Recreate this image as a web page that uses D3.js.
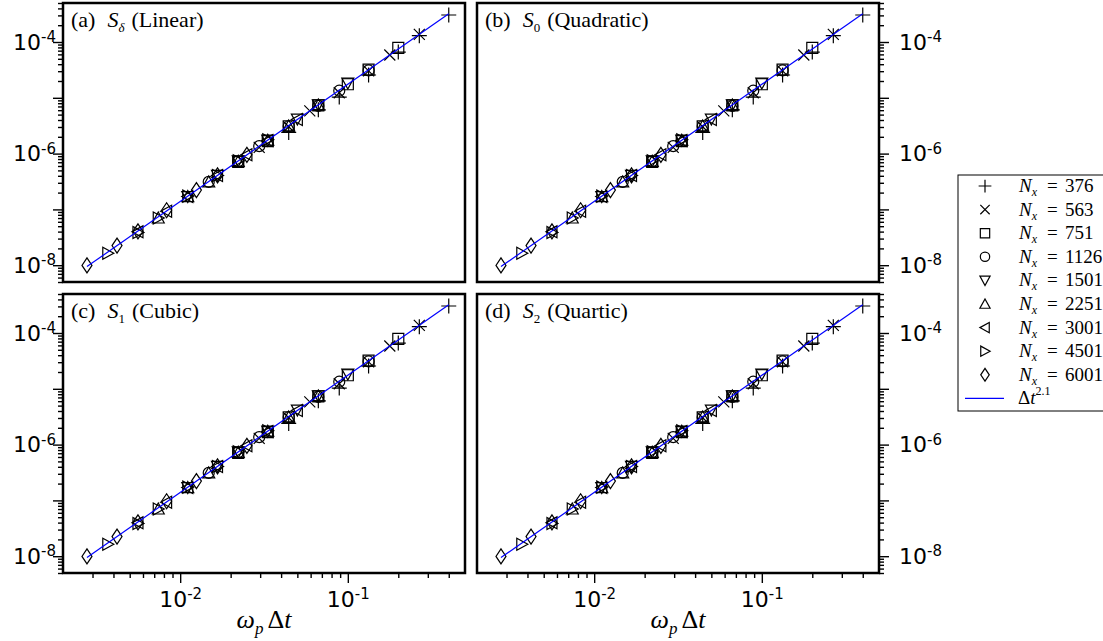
<!DOCTYPE html>
<html>
<head>
<meta charset="utf-8">
<script src="https://cdn.jsdelivr.net/npm/d3@7"></script>
<style>
body { margin: 0; background: #fff; }
svg { display: block; }
</style>
</head>
<body>
<svg width="1103" height="641"></svg>
<script>
// grid resolutions and their marker shapes
const resolutions = [376, 563, 751, 1126, 1501, 2251, 3001, 4501, 6001];
const markers = ['plus', 'cross', 'square', 'circle', 'tridown', 'triup', 'trileft', 'triright', 'diamond'];

// omega_p * dt and error, one pair of arrays per resolution
const dt376 = [0.4, 0.267, 0.2, 0.133, 0.0889, 0.0667, 0.0444];
const err376 = [3.05e-4, 1.30e-4, 6.6e-5, 2.56e-5, 1.03e-5, 6.1e-6, 2.4e-6];
const dt563 = [0.267, 0.178, 0.133, 0.0889, 0.0593, 0.0444, 0.0296];
const err563 = [1.37e-4, 5.85e-5, 3.04e-5, 1.23e-5, 5.83e-6, 3.03e-6, 1.29e-6];
const dt751 = [0.2, 0.133, 0.1, 0.0667, 0.0444, 0.0333, 0.0222];
const err751 = [7.86e-5, 3.20e-5, 1.75e-5, 7.31e-6, 3.09e-6, 1.67e-6, 7.12e-7];
const dt1126 = [0.133, 0.0889, 0.0667, 0.0444, 0.0296, 0.0222, 0.0148];
const err1126 = [3.10e-5, 1.34e-5, 7.16e-6, 3.09e-6, 1.36e-6, 7.27e-7, 3.11e-7];
const dt1501 = [0.1, 0.0667, 0.05, 0.0333, 0.0222, 0.0167, 0.0111];
const err1501 = [1.84e-5, 7.46e-6, 4.16e-6, 1.74e-6, 7.42e-7, 4.06e-7, 1.70e-7];
const dt2251 = [0.0667, 0.0444, 0.0333, 0.0222, 0.0148, 0.0111, 0.0074];
const err2251 = [7.46e-6, 3.13e-6, 1.74e-6, 7.27e-7, 3.11e-7, 1.70e-7, 7.02e-8];
const dt3001 = [0.05, 0.0333, 0.025, 0.0167, 0.0111, 0.0083, 0.0056];
const err3001 = [4.08e-6, 1.71e-6, 9.5e-7, 4.06e-7, 1.70e-7, 9.27e-8, 3.96e-8];
const dt4501 = [0.0333, 0.0222, 0.0167, 0.0111, 0.0074, 0.0056, 0.0037];
const err4501 = [1.77e-6, 7.42e-7, 4.06e-7, 1.73e-7, 7.02e-8, 3.84e-8, 1.64e-8];
const dt6001 = [0.025, 0.0167, 0.0125, 0.0083, 0.0056, 0.0042, 0.00278];
const err6001 = [9.5e-7, 4.06e-7, 2.22e-7, 9.65e-8, 4.04e-8, 2.25e-8, 9.9e-9];

const dtSeries = [dt376, dt563, dt751, dt1126, dt1501, dt2251, dt3001, dt4501, dt6001];
const errSeries = [err376, err563, err751, err1126, err1501, err2251, err3001, err4501, err6001];

// reference slope line  C * dt^2.1
const fitOrder = 2.1;
const fitCoef = 2.2e-3;
const fitRange = [0.00278, 0.4];

// panel labels
const panelTags = ['(a)', '(b)', '(c)', '(d)'];
const panelSubs = ['δ', '0', '1', '2'];
const panelNames = ['(Linear)', '(Quadratic)', '(Cubic)', '(Quartic)'];

const xDomain = [0.002, 0.5];
const yDomain = [5e-9, 5e-4];
const xMajor = [1e-2, 1e-1];
const xMinor = [3e-3, 4e-3, 5e-3, 6e-3, 7e-3, 8e-3, 9e-3, 2e-2, 3e-2, 4e-2, 5e-2, 6e-2, 7e-2, 8e-2, 9e-2, 2e-1, 3e-1, 4e-1];
const yMajor = [1e-8, 1e-7, 1e-6, 1e-5, 1e-4];
const yLabeled = [-8, -6, -4];

const tickFont = 22;

function markerPath(type, s) {
    s = s || 1;
    const p = d3.path();
    if (type === 'plus') {
        p.moveTo(-7.5 * s, 0); p.lineTo(7.5 * s, 0);
        p.moveTo(0, -7.5 * s); p.lineTo(0, 7.5 * s);
    } else if (type === 'cross') {
        p.moveTo(-5.5 * s, -5.5 * s); p.lineTo(5.5 * s, 5.5 * s);
        p.moveTo(-5.5 * s, 5.5 * s); p.lineTo(5.5 * s, -5.5 * s);
    } else if (type === 'square') {
        p.rect(-5.5 * s, -5.5 * s, 11 * s, 11 * s);
    } else if (type === 'circle') {
        p.moveTo(5.5 * s, 0); p.arc(0, 0, 5.5 * s, 0, 2 * Math.PI);
    } else if (type === 'tridown') {
        p.moveTo(-6 * s, -5 * s); p.lineTo(6 * s, -5 * s); p.lineTo(0, 6 * s); p.closePath();
    } else if (type === 'triup') {
        p.moveTo(-6 * s, 5 * s); p.lineTo(6 * s, 5 * s); p.lineTo(0, -6 * s); p.closePath();
    } else if (type === 'trileft') {
        p.moveTo(5 * s, -6 * s); p.lineTo(5 * s, 6 * s); p.lineTo(-6 * s, 0); p.closePath();
    } else if (type === 'triright') {
        p.moveTo(-5 * s, -6 * s); p.lineTo(-5 * s, 6 * s); p.lineTo(6 * s, 0); p.closePath();
    } else if (type === 'diamond') {
        p.moveTo(0, -7.5 * s); p.lineTo(5 * s, 0); p.lineTo(0, 7.5 * s); p.lineTo(-5 * s, 0); p.closePath();
    }
    return p.toString();
}

// turn tick text into 10 with a raised exponent
function powerLabels(g) {
    g.selectAll('.tick text').each(function (d) {
        const e = Math.round(Math.log10(d));
        const t = d3.select(this);
        t.text('');
        if (d3.select(this.parentNode).classed('nolabel')) return;
        t.append('tspan').text('10');
        t.append('tspan').attr('dy', '-0.5em').style('font-size', Math.round(tickFont * 0.68) + 'px').text(e);
    });
}

function drawPanels() {
    const svg = d3.select('svg');
    svg.selectAll('*').remove();

    const panelW = 402;
    const panelH = 279;
    const lefts = [63, 477, 63, 477];
    const tops = [3, 3, 294, 294];

    const xScale = d3.scaleLog().domain(xDomain).range([0, panelW]);
    const yScale = d3.scaleLog().domain(yDomain).range([panelH, 0]);

    // table of points, built from the series arrays
    const points = [];
    resolutions.forEach((n, i) => {
        dtSeries[i].forEach((dt, j) => {
            points.push({ n: n, marker: markers[i], dt: dt, err: errSeries[i][j] });
        });
    });

    const yMinorVals = [];
    for (let e = -9; e <= -4; e++) {
        for (let m = 2; m <= 9; m++) {
            const v = m * Math.pow(10, e);
            if (v >= yDomain[0] && v <= yDomain[1]) yMinorVals.push(v);
        }
    }

    for (let k = 0; k < 4; k++) {
        const g = svg.append('g')
            .attr('transform', `translate(${lefts[k]}, ${tops[k]})`);
        const onRight = k % 2 === 1;
        const onBottom = k >= 2;

        // y axis, outward ticks
        const yAx = g.append('g')
            .attr('transform', `translate(${onRight ? panelW : 0}, 0)`)
            .call((onRight ? d3.axisRight(yScale) : d3.axisLeft(yScale))
                .tickValues(yMajor).tickSize(10));
        yAx.selectAll('.tick').classed('nolabel', d => !yLabeled.includes(Math.round(Math.log10(d))));
        yAx.selectAll('text')
            .attr('x', onRight ? 20 : -7)
            .style('font-family', 'DejaVu Sans')
            .style('font-size', tickFont + 'px')
            .attr('fill', '#000');
        powerLabels(yAx);

        g.append('g')
            .attr('transform', `translate(${onRight ? panelW : 0}, 0)`)
            .call((onRight ? d3.axisRight(yScale) : d3.axisLeft(yScale))
                .tickValues(yMinorVals).tickSize(5).tickFormat(''));

        if (onBottom) {
            const xAx = g.append('g')
                .attr('transform', `translate(0, ${panelH})`)
                .call(d3.axisBottom(xScale).tickValues(xMajor).tickSize(10).tickPadding(8));
            xAx.selectAll('text')
                .style('font-family', 'DejaVu Sans')
                .style('font-size', tickFont + 'px')
                .attr('fill', '#000');
            powerLabels(xAx);
            g.append('g')
                .attr('transform', `translate(0, ${panelH})`)
                .call(d3.axisBottom(xScale).tickValues(xMinor).tickSize(5).tickFormat(''));

            // axis title  omega_p Delta t
            const lab = g.append('text')
                .attr('x', panelW / 2)
                .attr('y', panelH + 55)
                .attr('text-anchor', 'middle')
                .style('font-family', 'Liberation Serif')
                .style('font-size', '26px');
            lab.append('tspan').style('font-style', 'italic').text('ω');
            lab.append('tspan').style('font-style', 'italic').style('font-size', '17px').attr('dy', 6).text('p');
            lab.append('tspan').attr('dy', -6).attr('dx', 4).text('Δ');
            lab.append('tspan').style('font-style', 'italic').text('t');
        }
        g.selectAll('.domain').remove();
        g.selectAll('.tick line').attr('stroke', '#000').attr('stroke-width', 1.4);

        // markers
        g.selectAll('.pt')
            .data(points)
            .join('path')
            .attr('class', 'pt')
            .attr('transform', d => `translate(${xScale(d.dt)}, ${yScale(d.err)})`)
            .attr('d', d => markerPath(d.marker))
            .attr('fill', 'none')
            .attr('stroke', '#000')
            .attr('stroke-width', 1.2);

        // reference line
        g.append('path')
            .datum(fitRange)
            .attr('d', d3.line()
                .x(d => xScale(d))
                .y(d => yScale(fitCoef * Math.pow(d, fitOrder))))
            .attr('fill', 'none')
            .attr('stroke', '#0000ff')
            .attr('stroke-width', 1.2);

        // frame
        g.append('rect')
            .attr('width', panelW)
            .attr('height', panelH)
            .attr('fill', 'none')
            .attr('stroke', '#000')
            .attr('stroke-width', 2.5);

        // title
        const title = g.append('text')
            .attr('x', 8)
            .attr('y', 24)
            .style('font-family', 'Liberation Serif')
            .style('font-size', '22px');
        title.append('tspan').text(panelTags[k]);
        title.append('tspan').attr('dx', 12).style('font-style', 'italic').text('S');
        title.append('tspan').attr('dy', 5).style('font-size', '13px').style('font-style', k === 0 ? 'italic' : 'normal').text(panelSubs[k]);
        title.append('tspan').attr('dy', -5).attr('dx', 7).text(panelNames[k]);
    }

    // legend
    const legend = svg.append('g').attr('transform', 'translate(958, 175)');
    legend.append('rect')
        .attr('width', 170)
        .attr('height', 236)
        .attr('fill', '#fff')
        .attr('stroke', '#000')
        .attr('stroke-width', 1);
    const rowH = 23.6;
    resolutions.forEach((n, i) => {
        const cy = 11 + i * rowH;
        legend.append('path')
            .attr('transform', `translate(27, ${cy})`)
            .attr('d', markerPath(markers[i], 0.85))
            .attr('fill', 'none')
            .attr('stroke', '#000')
            .attr('stroke-width', 1.2);
        const t = legend.append('text')
            .attr('x', 61)
            .attr('y', cy + 6)
            .style('font-family', 'Liberation Serif')
            .style('font-size', '19px');
        t.append('tspan').style('font-style', 'italic').text('N');
        t.append('tspan').style('font-style', 'italic').style('font-size', '12px').attr('dy', 4).text('x');
        t.append('tspan').attr('dy', -4).attr('x', 89).text('=');
        t.append('tspan').attr('x', 107).text(n);
    });
    const ly = 11 + resolutions.length * rowH;
    legend.append('line')
        .attr('x1', 7).attr('x2', 46)
        .attr('y1', ly).attr('y2', ly)
        .attr('stroke', '#0000ff')
        .attr('stroke-width', 1.2);
    const lt = legend.append('text')
        .attr('x', 60)
        .attr('y', ly + 6)
        .style('font-family', 'Liberation Serif')
        .style('font-size', '19px');
    lt.append('tspan').text('Δ');
    lt.append('tspan').style('font-style', 'italic').text('t');
    lt.append('tspan').style('font-size', '12px').attr('dy', -9).text(fitOrder);
}

window.addEventListener('load', drawPanels);
</script>
</body>
</html>
